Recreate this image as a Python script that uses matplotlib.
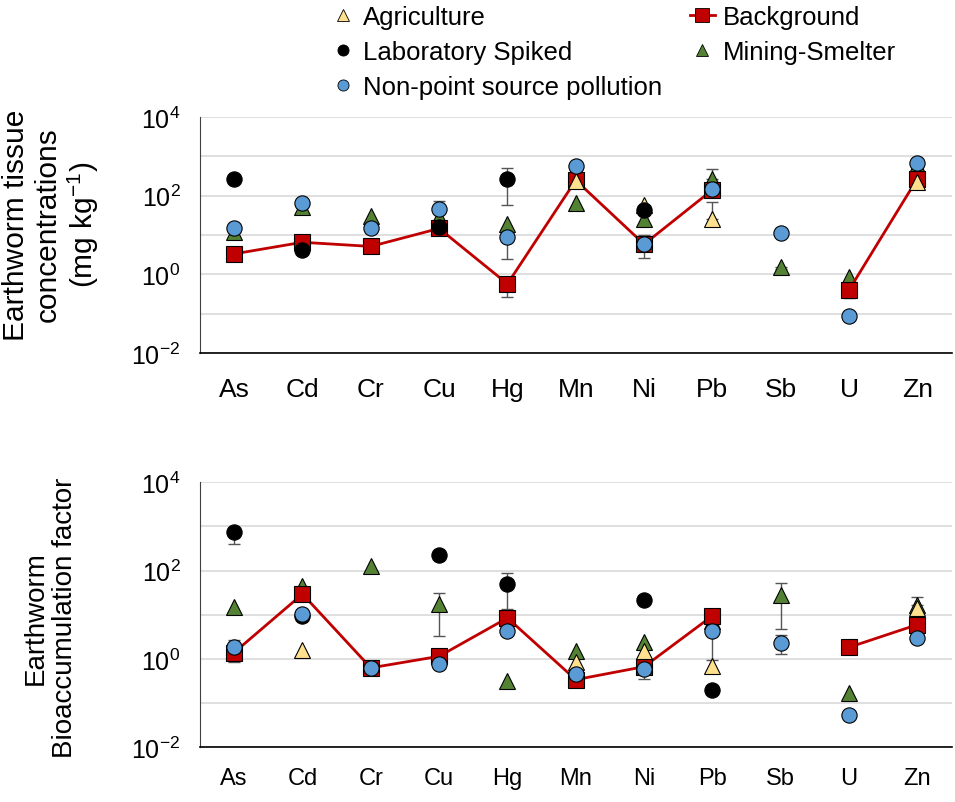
import matplotlib
matplotlib.use("Agg")
import matplotlib.pyplot as plt
from matplotlib.lines import Line2D
import numpy as np

plt.rcParams["font.family"] = ["Liberation Sans", "DejaVu Sans"]
plt.rcParams["mathtext.fontset"] = "custom"
plt.rcParams["mathtext.rm"] = "Liberation Sans"
plt.rcParams["mathtext.it"] = "Liberation Sans"
plt.rcParams["mathtext.default"] = "regular"

nan = np.nan
ELEMENTS = ["As", "Cd", "Cr", "Cu", "Hg", "Mn", "Ni", "Pb", "Sb", "U", "Zn"]

# Earthworm tissue concentrations (mg/kg)
tis_agri = [nan, nan, nan, nan, nan, 230, 57, 26, nan, nan, 225]
tis_lab = [270, 4.1, nan, 15.5, 270, nan, 43, nan, nan, nan, nan]
tis_nps = [14.6, 63, 14.6, 45, 8.7, 550, 5.9, 145, 11.5, 0.085, 690]
tis_bg = [3.3, 6.5, 5.1, 14.6, 0.57, 245, 5.8, 140, nan, 0.4, 270]
tis_mine = [12, 52, 29.5, 29, 19.5, 63, 26, 270, 1.57, 0.87, 590]

# Bioaccumulation factors
baf_agri = [nan, 1.6, nan, nan, nan, 0.84, 1.55, 0.71, nan, nan, 14]
baf_lab = [740, 9.5, nan, 225, 50, nan, 22, 0.2, nan, nan, nan]
baf_nps = [1.9, 10.5, 0.63, 0.78, 4.3, 0.46, 0.58, 4.4, 2.3, 0.054, 2.95]
baf_bg = [1.4, 29.5, 0.63, 1.15, 8.5, 0.34, 0.67, 9.5, nan, 1.84, 6.0]
baf_mine = [14.8, 46, 130, 17.6, 0.32, 1.55, 2.4, 7.4, 28, 0.17, 16.6]

# error bars: (series, element, low, high)
tis_err = [
    ("lab", "Hg", 57, 510), ("nps", "Hg", 2.5, 12), ("bg", "Hg", 0.27, 0.57),
    ("nps", "Cu", 45, 72), ("nps", "Ni", 2.6, 9.8), ("mine", "Pb", 270, 470),
    ("agri", "Pb", 26, 70), ("bg", "U", 0.25, 0.4), ("mine", "Sb", 1.35, 1.57),
]
baf_err = [
    ("lab", "As", 400, 740), ("nps", "As", 1.9, 2.75), ("bg", "As", 0.87, 1.4),
    ("mine", "Cu", 3.4, 31), ("lab", "Hg", 13.5, 89), ("nps", "Ni", 0.35, 0.58),
    ("nps", "Pb", 0.95, 4.4), ("mine", "Sb", 4.8, 52), ("nps", "Sb", 1.3, 3.5),
    ("mine", "Zn", 16.6, 25),
]

STYLE = {
    "agri": dict(marker="^", color="#FFE08F", ms=12, zorder=5),
    "lab": dict(marker="o", color="#000000", ms=11, zorder=6),
    "nps": dict(marker="o", color="#5B9BD5", ms=11, zorder=7),
    "bg": dict(marker="s", color="#C00000", ms=11, zorder=4),
    "mine": dict(marker="^", color="#548235", ms=12, zorder=3),
}


def draw_panel(ax, series, errs):
    x = np.arange(len(ELEMENTS))
    for key, vals in series.items():
        st = STYLE[key]
        vals = np.array(vals, dtype=float)
        ax.plot(x, vals, linestyle="-" if key == "bg" else "none", color="#C00000", lw=2,
                marker=st["marker"], ms=st["ms"], mfc=st["color"], mec="black", mew=0.8,
                zorder=st["zorder"])
    for key, el, lo, hi in errs:
        i = ELEMENTS.index(el)
        val = series[key][i]
        ax.errorbar(i, val, yerr=[[val - lo], [hi - val]], fmt="none", ecolor="#555555",
                    elinewidth=1, capsize=4, capthick=1, zorder=2)

    ax.set_yscale("log")
    ax.set_ylim(1e-2, 1e4)
    ax.set_xlim(-0.5, len(ELEMENTS) - 0.5)
    ax.set_xticks(x)
    ax.set_xticklabels(ELEMENTS)
    decades = [10.0 ** k for k in range(-2, 5)]
    ax.set_yticks(decades)
    ax.set_yticklabels([f"$10^{{{k}}}$" if k % 2 == 0 else "" for k in range(-2, 5)])
    ax.yaxis.set_minor_locator(matplotlib.ticker.NullLocator())
    ax.grid(True, axis="y", color="#d9d9d9", lw=1.2, zorder=0)
    ax.set_axisbelow(True)
    ax.tick_params(axis="both", length=0)
    ax.tick_params(axis="y", labelsize=18, pad=14)
    for s in ("top", "right"):
        ax.spines[s].set_visible(False)
    ax.spines["left"].set_color("#404040")
    ax.spines["bottom"].set_color("black")
    ax.spines["bottom"].set_linewidth(1.2)


fig = plt.figure(figsize=(9.55, 8.03), dpi=100)
ax1 = fig.add_axes([0.2094, 0.5592, 0.787, 0.294])
ax2 = fig.add_axes([0.2094, 0.0681, 0.787, 0.330])

draw_panel(ax1, {"mine": tis_mine, "bg": tis_bg, "agri": tis_agri, "lab": tis_lab,
                 "nps": tis_nps}, tis_err)
draw_panel(ax2, {"mine": baf_mine, "bg": baf_bg, "agri": baf_agri, "lab": baf_lab,
                 "nps": baf_nps}, baf_err)
ax1.tick_params(axis="x", labelsize=19, pad=17)
ax2.tick_params(axis="x", labelsize=17, pad=14)

fig.text(0.054, 0.72, "Earthworm tissue\nconcentrations\n(mg kg$^{-1}$)", rotation=90,
         ha="center", va="center", fontsize=21.5, linespacing=1.15)
fig.text(0.053, 0.23, "Earthworm\nBioaccumulation factor", rotation=90,
         ha="center", va="center", fontsize=20, linespacing=1.15)


def h(key, line=False):
    st = STYLE[key]
    return Line2D([], [], color="#C00000", lw=2 if line else 0, marker=st["marker"],
                  ms=10 if line else 8, mfc=st["color"], mec="black", mew=0.6)


handles = [h("agri"), h("lab"), h("nps"), h("bg", True), h("mine")]
labels = ["Agriculture", "Laboratory Spiked", "Non-point source pollution",
          "Background", "Mining-Smelter"]
fig.legend(handles, labels, ncol=2, loc="upper left", bbox_to_anchor=(0.3456, 0.992),
           frameon=False, fontsize=18.5, handlelength=1.0, handletextpad=0.3,
           columnspacing=1.05, labelspacing=0.42, borderaxespad=0, borderpad=0)

fig.savefig("out.png", dpi=100)
